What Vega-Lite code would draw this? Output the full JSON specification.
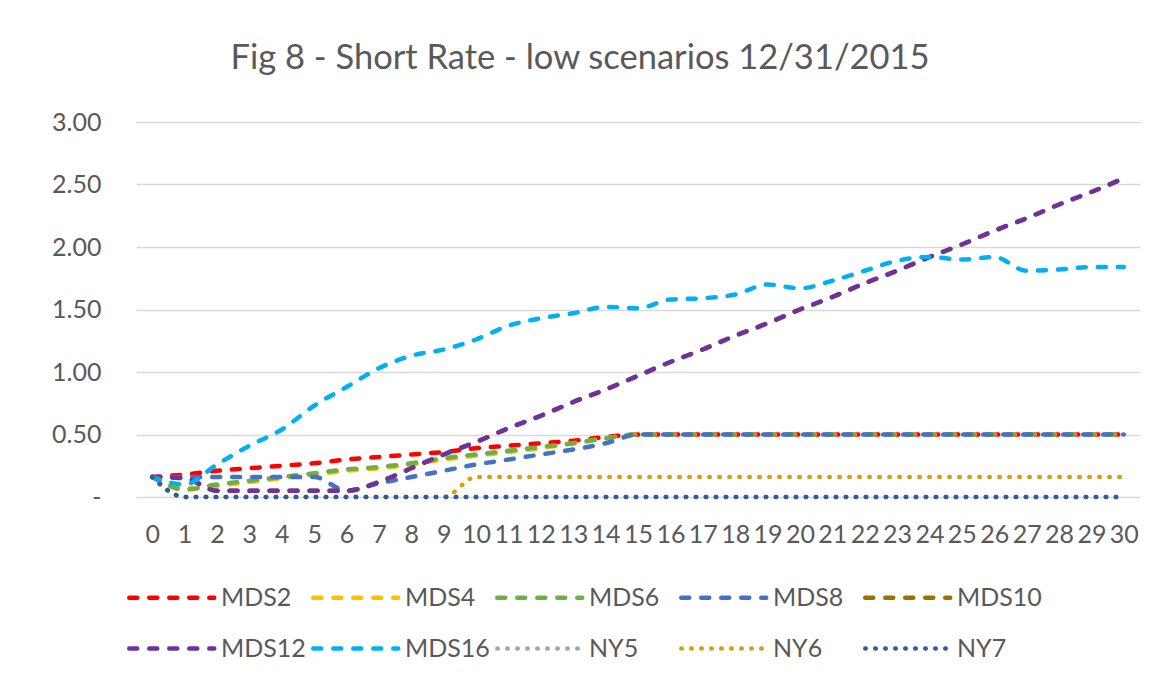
{
  "$schema": "https://vega.github.io/schema/vega-lite/v6.json",
  "autosize": {"type": "none"},
  "width": 1004,
  "height": 375,
  "padding": {"left": 136, "top": 122, "right": 11, "bottom": 191},
  "background": "white",
  "title": {
    "text": "Fig 8 - Short Rate - low scenarios 12/31/2015",
    "font": "Lato",
    "fontSize": 34.5,
    "fontWeight": "normal",
    "color": "#595959",
    "anchor": "middle",
    "dx": -58,
    "baseline": "alphabetic",
    "offset": 7
  },
  "data": {
    "values": [
      {"t": 0, "MDS2": 0.16, "MDS4": 0.16, "MDS6": 0.16, "MDS8": 0.16, "MDS10": 0.16, "MDS12": 0.16, "MDS16": 0.16, "NY5": 0.16, "NY6": 0.16, "NY7": 0.16},
      {"t": 1, "MDS2": 0.18, "MDS4": 0.07, "MDS6": 0.06, "MDS8": 0.16, "MDS10": 0.15, "MDS12": 0.15, "MDS16": 0.10, "NY5": 0, "NY6": 0, "NY7": 0},
      {"t": 2, "MDS2": 0.21, "MDS4": 0.09, "MDS6": 0.10, "MDS8": 0.16, "MDS10": 0.05, "MDS12": 0.05, "MDS16": 0.26, "NY5": 0, "NY6": 0, "NY7": 0},
      {"t": 3, "MDS2": 0.23, "MDS4": 0.12, "MDS6": 0.13, "MDS8": 0.16, "MDS10": 0.05, "MDS12": 0.05, "MDS16": 0.41, "NY5": 0, "NY6": 0, "NY7": 0},
      {"t": 4, "MDS2": 0.25, "MDS4": 0.15, "MDS6": 0.16, "MDS8": 0.16, "MDS10": 0.05, "MDS12": 0.05, "MDS16": 0.54, "NY5": 0, "NY6": 0, "NY7": 0},
      {"t": 5, "MDS2": 0.27, "MDS4": 0.18, "MDS6": 0.19, "MDS8": 0.16, "MDS10": 0.05, "MDS12": 0.05, "MDS16": 0.73, "NY5": 0, "NY6": 0, "NY7": 0},
      {"t": 6, "MDS2": 0.30, "MDS4": 0.21, "MDS6": 0.22, "MDS8": 0.05, "MDS10": 0.05, "MDS12": 0.05, "MDS16": 0.88, "NY5": 0, "NY6": 0, "NY7": 0},
      {"t": 7, "MDS2": 0.32, "MDS4": 0.23, "MDS6": 0.24, "MDS8": 0.11, "MDS10": 0.12, "MDS12": 0.12, "MDS16": 1.03, "NY5": 0, "NY6": 0, "NY7": 0},
      {"t": 8, "MDS2": 0.34, "MDS4": 0.26, "MDS6": 0.27, "MDS8": 0.16, "MDS10": 0.23, "MDS12": 0.23, "MDS16": 1.13, "NY5": 0, "NY6": 0, "NY7": 0},
      {"t": 9, "MDS2": 0.36, "MDS4": 0.30, "MDS6": 0.31, "MDS8": 0.21, "MDS10": 0.34, "MDS12": 0.34, "MDS16": 1.18, "NY5": 0, "NY6": 0, "NY7": 0},
      {"t": 10, "MDS2": 0.39, "MDS4": 0.33, "MDS6": 0.34, "MDS8": 0.26, "MDS10": 0.44, "MDS12": 0.44, "MDS16": 1.26, "NY5": 0, "NY6": 0.16, "NY7": 0},
      {"t": 11, "MDS2": 0.41, "MDS4": 0.36, "MDS6": 0.37, "MDS8": 0.30, "MDS10": 0.55, "MDS12": 0.55, "MDS16": 1.37, "NY5": 0, "NY6": 0.16, "NY7": 0},
      {"t": 12, "MDS2": 0.43, "MDS4": 0.39, "MDS6": 0.40, "MDS8": 0.34, "MDS10": 0.65, "MDS12": 0.65, "MDS16": 1.43, "NY5": 0, "NY6": 0.16, "NY7": 0},
      {"t": 13, "MDS2": 0.45, "MDS4": 0.43, "MDS6": 0.43, "MDS8": 0.38, "MDS10": 0.76, "MDS12": 0.76, "MDS16": 1.47, "NY5": 0, "NY6": 0.16, "NY7": 0},
      {"t": 14, "MDS2": 0.48, "MDS4": 0.47, "MDS6": 0.47, "MDS8": 0.43, "MDS10": 0.86, "MDS12": 0.86, "MDS16": 1.52, "NY5": 0, "NY6": 0.16, "NY7": 0},
      {"t": 15, "MDS2": 0.50, "MDS4": 0.50, "MDS6": 0.50, "MDS8": 0.50, "MDS10": 0.97, "MDS12": 0.97, "MDS16": 1.51, "NY5": 0, "NY6": 0.16, "NY7": 0},
      {"t": 16, "MDS2": 0.50, "MDS4": 0.50, "MDS6": 0.50, "MDS8": 0.50, "MDS10": 1.08, "MDS12": 1.08, "MDS16": 1.58, "NY5": 0, "NY6": 0.16, "NY7": 0},
      {"t": 17, "MDS2": 0.50, "MDS4": 0.50, "MDS6": 0.50, "MDS8": 0.50, "MDS10": 1.18, "MDS12": 1.18, "MDS16": 1.59, "NY5": 0, "NY6": 0.16, "NY7": 0},
      {"t": 18, "MDS2": 0.50, "MDS4": 0.50, "MDS6": 0.50, "MDS8": 0.50, "MDS10": 1.29, "MDS12": 1.29, "MDS16": 1.62, "NY5": 0, "NY6": 0.16, "NY7": 0},
      {"t": 19, "MDS2": 0.50, "MDS4": 0.50, "MDS6": 0.50, "MDS8": 0.50, "MDS10": 1.39, "MDS12": 1.39, "MDS16": 1.70, "NY5": 0, "NY6": 0.16, "NY7": 0},
      {"t": 20, "MDS2": 0.50, "MDS4": 0.50, "MDS6": 0.50, "MDS8": 0.50, "MDS10": 1.50, "MDS12": 1.50, "MDS16": 1.67, "NY5": 0, "NY6": 0.16, "NY7": 0},
      {"t": 21, "MDS2": 0.50, "MDS4": 0.50, "MDS6": 0.50, "MDS8": 0.50, "MDS10": 1.60, "MDS12": 1.60, "MDS16": 1.73, "NY5": 0, "NY6": 0.16, "NY7": 0},
      {"t": 22, "MDS2": 0.50, "MDS4": 0.50, "MDS6": 0.50, "MDS8": 0.50, "MDS10": 1.71, "MDS12": 1.71, "MDS16": 1.81, "NY5": 0, "NY6": 0.16, "NY7": 0},
      {"t": 23, "MDS2": 0.50, "MDS4": 0.50, "MDS6": 0.50, "MDS8": 0.50, "MDS10": 1.81, "MDS12": 1.81, "MDS16": 1.89, "NY5": 0, "NY6": 0.16, "NY7": 0},
      {"t": 24, "MDS2": 0.50, "MDS4": 0.50, "MDS6": 0.50, "MDS8": 0.50, "MDS10": 1.92, "MDS12": 1.92, "MDS16": 1.92, "NY5": 0, "NY6": 0.16, "NY7": 0},
      {"t": 25, "MDS2": 0.50, "MDS4": 0.50, "MDS6": 0.50, "MDS8": 0.50, "MDS10": 2.02, "MDS12": 2.02, "MDS16": 1.90, "NY5": 0, "NY6": 0.16, "NY7": 0},
      {"t": 26, "MDS2": 0.50, "MDS4": 0.50, "MDS6": 0.50, "MDS8": 0.50, "MDS10": 2.13, "MDS12": 2.13, "MDS16": 1.92, "NY5": 0, "NY6": 0.16, "NY7": 0},
      {"t": 27, "MDS2": 0.50, "MDS4": 0.50, "MDS6": 0.50, "MDS8": 0.50, "MDS10": 2.23, "MDS12": 2.23, "MDS16": 1.81, "NY5": 0, "NY6": 0.16, "NY7": 0},
      {"t": 28, "MDS2": 0.50, "MDS4": 0.50, "MDS6": 0.50, "MDS8": 0.50, "MDS10": 2.34, "MDS12": 2.34, "MDS16": 1.82, "NY5": 0, "NY6": 0.16, "NY7": 0},
      {"t": 29, "MDS2": 0.50, "MDS4": 0.50, "MDS6": 0.50, "MDS8": 0.50, "MDS10": 2.44, "MDS12": 2.44, "MDS16": 1.84, "NY5": 0, "NY6": 0.16, "NY7": 0},
      {"t": 30, "MDS2": 0.50, "MDS4": 0.50, "MDS6": 0.50, "MDS8": 0.50, "MDS10": 2.55, "MDS12": 2.55, "MDS16": 1.84, "NY5": 0, "NY6": 0.16, "NY7": 0}
    ]
  },
  "transform": [
    {"fold": ["MDS2", "MDS4", "MDS6", "MDS8", "MDS10", "MDS12", "MDS16", "NY5", "NY6", "NY7"], "as": ["series", "value"]}
  ],
  "mark": {"type": "line", "interpolate": "monotone", "strokeCap": "round", "strokeJoin": "round"},
  "encoding": {
    "x": {
      "field": "t",
      "type": "ordinal",
      "scale": {"paddingOuter": 0.5},
      "axis": {
        "title": null,
        "labelAngle": 0,
        "ticks": false,
        "domain": false,
        "grid": false,
        "labelFont": "Lato",
        "labelFontSize": 25,
        "labelColor": "#595959",
        "labelBaseline": "middle",
        "labelPadding": 37
      }
    },
    "y": {
      "field": "value",
      "type": "quantitative",
      "scale": {"domain": [0, 3], "nice": false, "zero": true},
      "axis": {
        "title": null,
        "values": [0, 0.5, 1, 1.5, 2, 2.5, 3],
        "labelExpr": "datum.value == 0 ? '-' : format(datum.value, '.2f')",
        "ticks": false,
        "domain": false,
        "gridColor": "#d9d9d9",
        "gridWidth": 1.3,
        "labelFont": "Lato",
        "labelFontSize": 25,
        "labelColor": "#595959",
        "labelPadding": 35
      }
    },
    "color": {
      "field": "series",
      "type": "nominal",
      "scale": {
        "domain": ["MDS2", "MDS4", "MDS6", "MDS8", "MDS10", "MDS12", "MDS16", "NY5", "NY6", "NY7"],
        "range": ["#ff0000", "#ffc000", "#70ad47", "#4472c4", "#997300", "#7030a0", "#00b0f0", "#a5a5a5", "#d4a00c", "#2f5aa8"]
      },
      "legend": {
        "title": null,
        "orient": "none",
        "legendX": -9,
        "legendY": 452,
        "direction": "horizontal",
        "columns": 5,
        "gridAlign": "all",
        "columnPadding": -2,
        "rowPadding": 14,
        "symbolType": "M-1,0H3",
        "symbolSize": 1806.25,
        "symbolStrokeWidth": 4.5,
        "labelFont": "Lato",
        "labelFontSize": 25,
        "labelColor": "#595959",
        "labelOffset": 47,
        "encoding": {
          "symbols": {"strokeCap": {"value": "round"}}
        }
      }
    },
    "strokeDash": {
      "field": "series",
      "type": "nominal",
      "scale": {
        "domain": ["MDS2", "MDS4", "MDS6", "MDS8", "MDS10", "MDS12", "MDS16", "NY5", "NY6", "NY7"],
        "range": [[8, 12], [8, 12], [8, 12], [8, 12], [8, 12], [8, 12], [8, 12], [0.5, 9.5], [0.5, 9.5], [0.5, 9.5]]
      }
    },
    "strokeWidth": {
      "field": "series",
      "type": "nominal",
      "scale": {
        "domain": ["MDS2", "MDS4", "MDS6", "MDS8", "MDS10", "MDS12", "MDS16", "NY5", "NY6", "NY7"],
        "range": [4.5, 4.5, 4.5, 4.5, 4.5, 4.5, 4.5, 4, 4, 4]
      },
      "legend": null
    }
  },
  "config": {
    "view": {"stroke": null}
  }
}
